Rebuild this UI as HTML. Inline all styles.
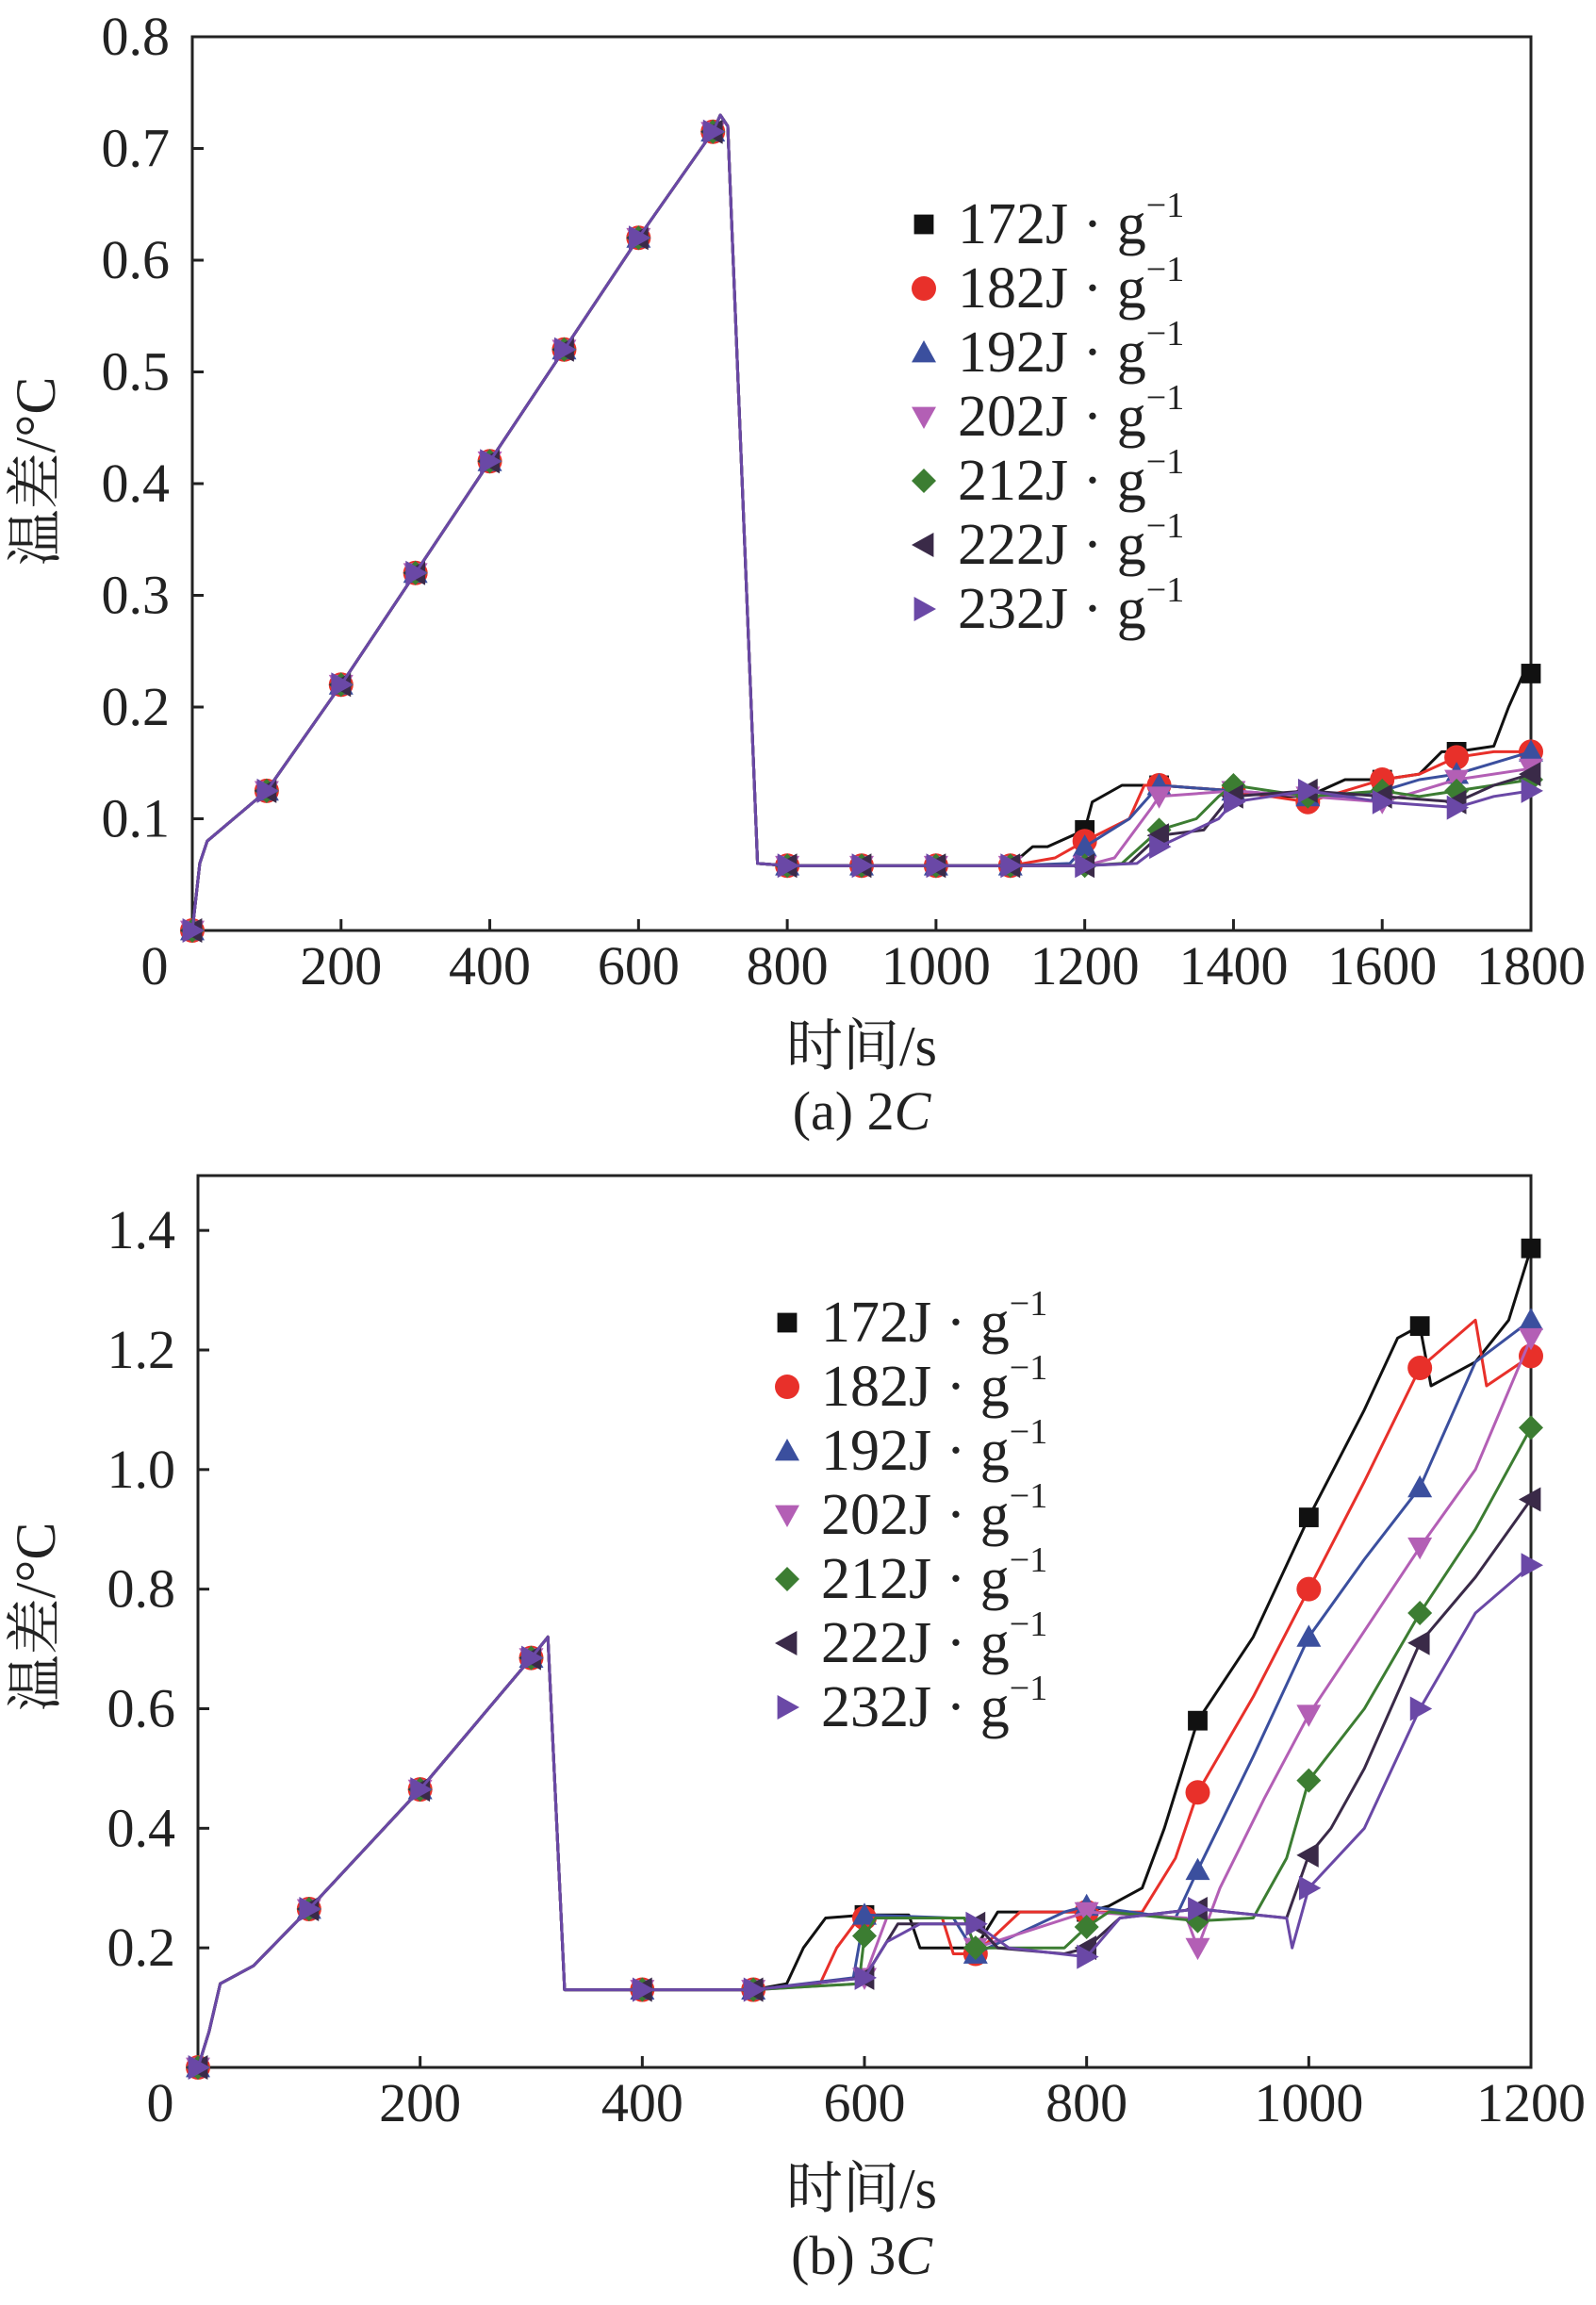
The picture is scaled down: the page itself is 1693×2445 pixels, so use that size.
<!DOCTYPE html>
<html><head><meta charset="utf-8">
<style>
html,body{margin:0;padding:0;background:#fff;}
svg{display:block;}
text{font-family:"Liberation Serif","Noto Serif CJK SC",serif;fill:#222;}
</style></head>
<body>
<svg id="fig" width="1693" height="2445" viewBox="0 0 1693 2445" xmlns="http://www.w3.org/2000/svg"></svg>
<script>
// ---------- Chart (a) 2C data ----------
const aCommonT = [0,10,20,100,200,300,400,500,600,700,710,720,760,800,900,1000,1100];
const aCommonV = [0,0.06,0.08,0.125,0.22,0.32,0.42,0.52,0.62,0.715,0.73,0.72,0.06,0.058,0.058,0.058,0.058];
const aSeriesT = [
 [1130,1150,1200,1210,1250,1300,1400,1450,1500,1550,1600,1650,1680,1700,1750,1770,1790,1800],
 [1160,1200,1260,1280,1300,1400,1450,1500,1550,1600,1650,1700,1750,1800],
 [1180,1200,1260,1300,1400,1500,1550,1600,1650,1700,1750,1800],
 [1200,1240,1290,1300,1400,1500,1600,1650,1700,1800],
 [1200,1250,1300,1350,1380,1400,1500,1600,1650,1700,1800],
 [1200,1260,1300,1360,1390,1400,1500,1600,1700,1750,1800],
 [1200,1270,1300,1380,1400,1500,1600,1700,1750,1800]
];
const aSeriesV = [
 [0.075,0.075,0.09,0.115,0.13,0.13,0.125,0.12,0.12,0.135,0.135,0.14,0.16,0.16,0.165,0.2,0.23,0.23],
 [0.065,0.08,0.1,0.13,0.13,0.125,0.12,0.115,0.125,0.135,0.14,0.155,0.16,0.16],
 [0.06,0.075,0.1,0.13,0.125,0.12,0.12,0.125,0.135,0.14,0.15,0.16],
 [0.058,0.065,0.11,0.12,0.125,0.12,0.115,0.125,0.135,0.145],
 [0.058,0.06,0.09,0.1,0.12,0.13,0.12,0.125,0.12,0.125,0.135],
 [0.058,0.06,0.085,0.09,0.115,0.12,0.125,0.12,0.115,0.13,0.14],
 [0.058,0.06,0.075,0.1,0.115,0.125,0.115,0.11,0.12,0.125]
];
const aXTicks = [0,200,400,600,800,1000,1200,1400,1600,1800];
const aYTicks = [0.1,0.2,0.3,0.4,0.5,0.6,0.7,0.8];

// ---------- Chart (b) 3C data ----------
const bCommonT = [0,10,20,50,100,200,300,315,330,340,400,500];
const bCommonV = [0,0.06,0.14,0.17,0.265,0.465,0.685,0.72,0.13,0.13,0.13,0.13];
const bSeriesT = [
 [530,545,565,600,640,650,700,720,800,820,850,870,900,950,1000,1050,1080,1100,1110,1150,1180,1200],
 [560,575,595,600,670,680,700,740,800,850,880,900,950,1000,1050,1100,1150,1160,1200],
 [590,600,680,700,780,800,880,900,950,1000,1050,1100,1150,1200],
 [595,600,620,690,700,800,890,900,920,960,1000,1050,1100,1150,1200],
 [595,600,610,690,700,780,800,820,900,950,980,1000,1050,1100,1150,1200],
 [600,630,700,720,780,800,830,900,980,1000,1020,1050,1100,1150,1200],
 [600,620,650,700,730,800,830,900,980,985,1000,1050,1100,1150,1200]
];
const bSeriesV = [
 [0.14,0.2,0.25,0.255,0.255,0.2,0.2,0.26,0.26,0.27,0.3,0.4,0.58,0.72,0.92,1.1,1.22,1.24,1.14,1.18,1.25,1.37],
 [0.14,0.2,0.25,0.25,0.25,0.19,0.19,0.26,0.26,0.26,0.35,0.46,0.62,0.8,0.98,1.17,1.25,1.14,1.19],
 [0.15,0.255,0.25,0.19,0.26,0.27,0.25,0.33,0.52,0.72,0.85,0.97,1.18,1.25],
 [0.14,0.15,0.25,0.25,0.2,0.26,0.25,0.2,0.3,0.45,0.59,0.73,0.87,1.0,1.22],
 [0.14,0.22,0.25,0.25,0.2,0.2,0.235,0.26,0.245,0.25,0.35,0.48,0.6,0.76,0.9,1.07],
 [0.15,0.24,0.24,0.2,0.19,0.2,0.25,0.265,0.25,0.355,0.4,0.5,0.71,0.82,0.95],
 [0.15,0.21,0.24,0.24,0.2,0.185,0.25,0.265,0.25,0.2,0.3,0.4,0.6,0.76,0.84]
];
const bXTicks = [0,200,400,600,800,1000,1200];
const bYTicks = [0.2,0.4,0.6,0.8,1.0,1.2,1.4];

const seriesNames = ["172","182","192","202","212","222","232"];
const colors = ["#111111","#e8302a","#3b4f9e","#b35fb5","#3c7d32","#3a2a48","#6a48a6"];
const shapes = ["square","circle","up","down","diamond","left","right"];

const NS="http://www.w3.org/2000/svg";
const svg=document.getElementById('fig');
function mk(tag,attrs,parent){const e=document.createElementNS(NS,tag);for(const k in attrs)e.setAttribute(k,attrs[k]);(parent||svg).appendChild(e);return e;}

function marker(g,shape,x,y,c,s){
  let e;
  if(shape==="square")e=mk('rect',{x:x-s*0.8,y:y-s*0.8,width:s*1.6,height:s*1.6,fill:c},g);
  else if(shape==="circle")e=mk('circle',{cx:x,cy:y,r:s,fill:c},g);
  else{
    let p;
    if(shape==="up")p=[[x,y-s],[x+s,y+s*0.8],[x-s,y+s*0.8]];
    if(shape==="down")p=[[x,y+s],[x+s,y-s*0.8],[x-s,y-s*0.8]];
    if(shape==="diamond")p=[[x,y-s],[x+s,y],[x,y+s],[x-s,y]];
    if(shape==="left")p=[[x-s,y],[x+s*0.8,y-s],[x+s*0.8,y+s]];
    if(shape==="right")p=[[x+s,y],[x-s*0.8,y-s],[x-s*0.8,y+s]];
    e=mk('polygon',{points:p.map(q=>q.join(',')).join(' '),fill:c},g);
  }
  return e;
}

function chart(cfg){
  const g=mk('g',{});
  
  
  const X=t=>cfg.L+(t-cfg.x0)/(cfg.x1-cfg.x0)*(cfg.R-cfg.L);
  const Y=v=>cfg.B-(v-cfg.y0)/(cfg.y1-cfg.y0)*(cfg.B-cfg.T);
  const frame=mk('rect',{x:cfg.L,y:cfg.T,width:cfg.R-cfg.L,height:cfg.B-cfg.T,fill:'none',stroke:'#222','stroke-width':3},g);
  
  
  cfg.xt.forEach(t=>{
    const x=X(t);
    const tk=mk('line',{x1:x,y1:cfg.B,x2:x,y2:cfg.B-12,stroke:'#222','stroke-width':3},g);
    
    
    const lx=t===0?x-40:x;
    const tx=mk('text',{x:lx,y:cfg.B+57,'font-size':58,'text-anchor':'middle'},g);
    tx.textContent=String(t);
    
    
  });
  cfg.yt.forEach(v=>{
    const y=Y(v);
    const tk=mk('line',{x1:cfg.L,y1:y,x2:cfg.L+12,y2:y,stroke:'#222','stroke-width':3},g);
    
    
    const tx=mk('text',{x:cfg.L-24,y:y+19,'font-size':58,'text-anchor':'end'},g);
    tx.textContent=v.toFixed(1);
    
    
  });
  const yt=mk('text',{x:0,y:0,'font-size':60,'text-anchor':'middle',transform:`translate(${cfg.ytx},${cfg.yty}) rotate(-90)`},g);
  yt.textContent='温差/°C';
  
  
  const xt=mk('text',{x:914,y:cfg.xty,'font-size':60,'text-anchor':'middle'},g);
  xt.textContent='时间/s';
  
  
  const cap=mk('text',{x:914,y:cfg.capy,'font-size':58,'text-anchor':'middle'},g);
  cap.innerHTML=cfg.cap+'<tspan font-style="italic">C</tspan>';
  
  

  for(let i=0;i<7;i++){
    const T=cfg.cT.concat(cfg.sT[i]);
    const V=cfg.cV.concat(cfg.sV[i]);
    const sg=mk('g',{},g);
    
    
    const pl=mk('polyline',{points:T.map((t,k)=>X(t).toFixed(1)+','+Y(V[k]).toFixed(1)).join(' '),fill:'none',stroke:colors[i],'stroke-width':3,'stroke-linejoin':'round'},sg);
    
    
    T.forEach((t,k)=>{
      if(t%100===0){
        const m=marker(sg,shapes[i],X(t),Y(V[k]),colors[i],13);
        
        
      }
    });
  }
  const lg=mk('g',{},g);
  
  
  for(let i=0;i<7;i++){
    const y=cfg.legY+i*68;
    const m=marker(lg,shapes[i],cfg.legX,y,colors[i],13);
    
    
    const t=mk('text',{x:cfg.legX+36,y:y+20,'font-size':62},lg);
    t.innerHTML=seriesNames[i]+'J · g<tspan font-size="38" dy="-28">−1</tspan>';
    
    
  }
}

chart({name:'chart-2c',L:204,R:1624,T:39,B:987,x0:0,x1:1800,y0:0,y1:0.8,xt:aXTicks,yt:aYTicks,
  cT:aCommonT,cV:aCommonV,sT:aSeriesT,sV:aSeriesV,ytx:58,yty:500,xty:1130,capy:1198,cap:'(a) 2',legX:980,legY:238});
chart({name:'chart-3c',L:210,R:1624,T:1247,B:2193,x0:0,x1:1200,y0:0,y1:1.4*1.0655,xt:bXTicks,yt:bYTicks,
  cT:bCommonT,cV:bCommonV,sT:bSeriesT,sV:bSeriesV,ytx:58,yty:1715,xty:2342,capy:2412,cap:'(b) 3',legX:835,legY:1403});
</script>
</body></html>
